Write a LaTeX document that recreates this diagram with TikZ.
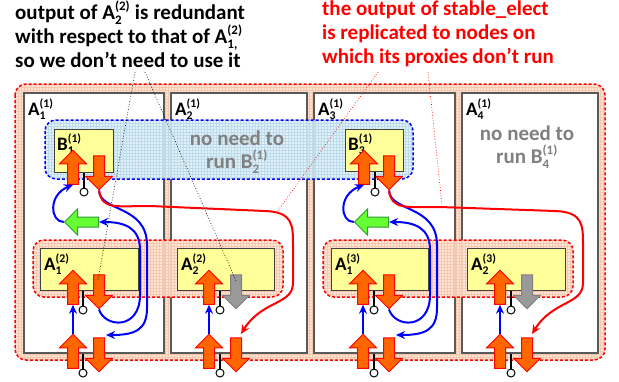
\documentclass[tikz,border=0pt]{standalone}
\usepackage{amsmath}
\usepackage{fontspec}
\setmainfont{Carlito}
\usepackage{tikz}
\usetikzlibrary{shapes.arrows, arrows.meta, patterns}

\definecolor{peach}{HTML}{FBE2D3}
\definecolor{peachgrid}{HTML}{F6C9AE}
\definecolor{iceblue}{HTML}{DDEEF6}
\definecolor{icegrid}{HTML}{BDDCEB}
\definecolor{boxyellow}{HTML}{FFFF99}
\definecolor{flow}{HTML}{FF6600}
\definecolor{leaf}{HTML}{66FF33}
\definecolor{leafline}{HTML}{339933}

% smaller indices than the default .7
\renewcommand{\defaultscriptratio}{.62}
% sub- and superscript stacked after a letter
\newcommand{\ix}[2]{$_{\text{#1}}^{\text{#2}}$}

\tikzset{
  region/.style={rounded corners=11pt, line width=1.5pt, dash pattern=on 3pt off 2pt},
  peachfill/.style={preaction={fill=peach, fill opacity=#1}, pattern=grid, pattern color=peachgrid},
  peachfill/.default=1,
  panel/.style={draw=black!65, line width=1.5pt, fill=white, anchor=north west, inner sep=0pt},
  task/.style={draw=black!75, line width=0.8pt, fill=boxyellow, anchor=north west, inner sep=0pt},
  lab/.style={font=\bfseries\fontsize{19}{20}\selectfont, anchor=base west, inner sep=0pt},
  note/.style={font=\bfseries\fontsize{21}{24}\selectfont, align=left, anchor=north west, inner sep=0pt},
  skip/.style={font=\bfseries\fontsize{21}{23}\selectfont, text=black!50, align=center, inner sep=0pt},
  flowarr/.style={single arrow, draw=red, fill=flow, line width=1pt, minimum height=34pt,
    single arrow head extend=8pt, inner xsep=0pt, inner ysep=5pt},
  upflow/.style={flowarr, rotate=90},
  downflow/.style={flowarr, rotate=-90},
  idle/.style={downflow, draw=black!50, fill=black!40},
  merge/.style={flowarr, rotate=180, draw=leafline, fill=leaf, inner ysep=4.5pt},
  plug/.style={circle, draw, fill=white, line width=1pt, minimum size=8pt, inner sep=0pt},
  stem/.style={line width=1.5pt},
  relay/.style={blue, line width=2pt, -{Stealth[length=9pt, width=8pt]}},
  copyto/.style={red, line width=2pt, -{Stealth[length=9pt, width=8pt]}},
}

\begin{document}
\begin{tikzpicture}[x=1pt, y=-1pt]
  \useasboundingbox (0,0) rectangle (619,381);

  % notes on top
  \node[note] (n1) at (15,1) {output of A\ix{2}{(2)} is redundant\\
    with respect to that of A\ix{1,}{(2)}\\ so we don't need to use it};
  \node[note, text=red] (n2) at (322,1) {the output of stable\_elect\\
    is replicated to nodes on\\ which its proxies don't run};

  % all nodes
  \draw[region, draw=red, peachfill] (15,84) rectangle (605,360);

  % one panel per node
  \node[panel, minimum width=140pt, minimum height=260pt] (p1) at (23,92) {};
  \node[panel, minimum width=136pt, minimum height=260pt] (p2) at (170,92) {};
  \node[panel, minimum width=141pt, minimum height=260pt] (p3) at (313,92) {};
  \node[panel, minimum width=136pt, minimum height=260pt] (p4) at (461,92) {};
  \foreach \k in {1,...,4}
    \node[lab] at ([shift={(5,23)}]p\k.north west) {A\ix{\k}{(1)}};

  % replicas of B
  \path[fill=iceblue, fill opacity=0.85, rounded corners=11pt] (45,120) rectangle (413,179);
  \draw[region, draw=blue, pattern=grid, pattern color=icegrid] (45,120) rectangle (413,179);

  % groups of A
  \draw[region, draw=red, peachfill=0.85] (33,240) rectangle (283,297);
  \draw[region, draw=red, peachfill=0.85] (323,240) rectangle (573,297);

  \node[skip] (s2) at (237,152) {no need to\\ run B\ix{2}{(1)}};
  \node[skip] (s4) at (527,147) {no need to\\ run B\ix{4}{(1)}};

  % tasks
  \node[task, minimum width=59pt, minimum height=43pt] (b1) at (54,129) {};
  \node[task, minimum width=58pt, minimum height=42pt] (b3) at (345,129) {};
  \node[task, minimum width=98pt, minimum height=42pt] (a12) at (40,248) {};
  \node[task, minimum width=97pt, minimum height=42pt] (a22) at (177,248) {};
  \node[task, minimum width=97pt, minimum height=42pt] (a13) at (331,248) {};
  \node[task, minimum width=98pt, minimum height=42pt] (a23) at (467,248) {};
  \node[lab] at ([shift={(3,21)}]b1.north west) {B\ix{1}{(1)}};
  \node[lab] at ([shift={(3,21)}]b3.north west) {B\ix{3}{(1)}};
  \node[lab] at ([shift={(4,22)}]a12.north west) {A\ix{1}{(2)}};
  \node[lab] at ([shift={(4,22)}]a22.north west) {A\ix{2}{(2)}};
  \node[lab] at ([shift={(4,22)}]a13.north west) {A\ix{1}{(3)}};
  \node[lab] at ([shift={(4,22)}]a23.north west) {A\ix{2}{(3)}};

  % ports of B
  \node[upflow] (b1u) at (73,170) {};
  \node[downflow] (b1d) at (99,170) {};
  \node[plug] (b1p) at (84,192) {};
  \draw[stem] (b1p) -- (b1p |- b1.south);
  \node[upflow] (b3u) at (364,170) {};
  \node[downflow] (b3d) at (389,170) {};
  \node[plug] (b3p) at (375,192) {};
  \draw[stem] (b3p) -- (b3p |- b3.south);

  % merging outputs
  \node[merge] (g1) at (84,222) {};
  \node[merge] (g3) at (374,222) {};

  % ports of A
  \node[upflow] (a12u) at (73,290) {};
  \node[downflow] (a12d) at (99,289) {};
  \node[plug] (a12p) at (83,310) {};
  \draw[stem] (a12p) -- (a12p |- a12.south);
  \node[upflow] (a22u) at (209,290) {};
  \node[idle] (a22d) at (236,289) {};
  \node[plug] (a22p) at (220,310) {};
  \draw[stem] (a22p) -- (a22p |- a22.south);
  \node[upflow] (a13u) at (363,290) {};
  \node[downflow] (a13d) at (389,289) {};
  \node[plug] (a13p) at (374,310) {};
  \draw[stem] (a13p) -- (a13p |- a13.south);
  \node[upflow] (a23u) at (500,290) {};
  \node[idle] (a23d) at (527,289) {};
  \node[plug] (a23p) at (511,310) {};
  \draw[stem] (a23p) -- (a23p |- a23.south);

  % ports of the panels
  \foreach \n/\u/\d/\s/\x in {p1/73/99/83/1, p2/209/236/220/2, p3/363/389/374/3, p4/500/527/511/4} {
    \node[upflow] (io\x u) at (\u,354) {};
    \node[downflow] (io\x d) at (\d,352) {};
    \node[plug] (io\x p) at (\s,373) {};
    \draw[stem] (io\x p) -- (io\x p |- \n.south);
  }

  % inputs
  \draw[relay] (io1u.tip) -- (a12u.tail);
  \draw[relay] (io2u.tip) -- (a22u.tail);
  \draw[relay] (io3u.tip) -- (a13u.tail);
  \draw[relay] (io4u.tip) -- (a23u.tail);

  \coordinate (e1) at (106,335);
  \coordinate (e3) at (396,335);
  \draw[relay] (g1.tip) .. controls (50,222) and (48,195) .. (b1u.tail);
  \draw[relay] (b1d.tip) .. controls (100,212) and (147,205) .. (147,245)
    -- (147,308) .. controls (147,330) and (135,335) .. (e1);
  \draw[relay] (a12d.tip) .. controls (105,328) and (140,330) .. (140,295)
    -- (140,250) .. controls (140,228) and (125,222) .. (g1.tail);
  \draw[relay] (g3.tip) .. controls (340,222) and (338,195) .. (b3u.tail);
  \draw[relay] (b3d.tip) .. controls (390,212) and (437,205) .. (437,245)
    -- (437,308) .. controls (437,330) and (425,335) .. (e3);
  \draw[relay] (a13d.tip) .. controls (395,328) and (430,330) .. (430,295)
    -- (430,250) .. controls (430,228) and (415,222) .. (g3.tail);

  % copies of stable_elect
  \coordinate (r2) at (241,334);
  \coordinate (r4) at (532,334);
  \draw[copyto] (b1d.tip) .. controls (102,210) and (115,206) .. (150,206)
    -- (265,211) .. controls (293,212) and (293,225) .. (293,245)
    -- (293,283) .. controls (293,305) and (262,300) .. (r2);
  \draw[copyto] (b3d.tip) .. controls (392,210) and (405,207) .. (440,207)
    -- (555,211) .. controls (583,212) and (583,225) .. (583,245)
    -- (583,283) .. controls (583,305) and (553,300) .. (r4);

  % pointers from the notes
  \draw[dotted, line width=0.7pt] (135,72) -- (98,280);
  \draw[dotted, line width=0.7pt] (145,72) -- (236,281);
  \draw[red, dotted, line width=0.7pt] (378,72) -- (277,212);
  \draw[red, dotted, line width=0.7pt] (428,72) -- (442,205);
\end{tikzpicture}
\end{document}
